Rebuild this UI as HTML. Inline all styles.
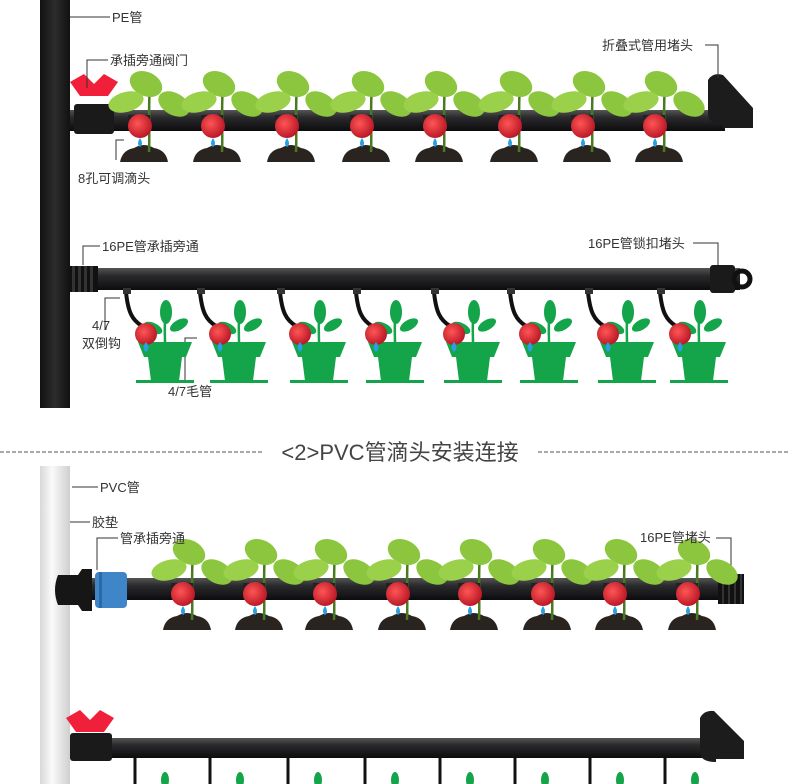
<!DOCTYPE html>
<html><head><meta charset="utf-8">
<style>
html,body{margin:0;padding:0;background:#fff;}
svg{display:block;}
text{font-family:"Liberation Sans","Noto Sans CJK SC",sans-serif;fill:#333;font-size:13px;}
</style></head><body>
<svg width="790" height="784" viewBox="0 0 790 784" xmlns="http://www.w3.org/2000/svg">
<defs>
<linearGradient id="pipe" x1="0" y1="0" x2="0" y2="1">
<stop offset="0" stop-color="#555"/><stop offset="0.35" stop-color="#2a2a2c"/><stop offset="1" stop-color="#0c0c0e"/></linearGradient>
<linearGradient id="vpipe" x1="0" y1="0" x2="1" y2="0">
<stop offset="0" stop-color="#111"/><stop offset="0.5" stop-color="#2c2c2e"/><stop offset="1" stop-color="#111"/></linearGradient>
<linearGradient id="pvc" x1="0" y1="0" x2="1" y2="0">
<stop offset="0" stop-color="#d8d8d8"/><stop offset="0.4" stop-color="#fafafa"/><stop offset="1" stop-color="#cfcfcf"/></linearGradient>
<radialGradient id="red" cx="0.4" cy="0.4" r="0.7"><stop offset="0" stop-color="#f55"/><stop offset="1" stop-color="#b01020"/></radialGradient>
<g id="plant">
<path d="M-20 40 q2 -12 14 -14 q10 -6 20 0 q12 2 14 14z" fill="#2a2420"/>
<path d="M9 30 C10 10 8 -10 10 -38" stroke="#4a7a20" stroke-width="2.5" fill="none"/>
<ellipse cx="6" cy="-38" rx="17" ry="12" fill="#8cc63f" transform="rotate(25 6 -38)"/>
<ellipse cx="-14" cy="-20" rx="18" ry="10" fill="#9ad04a" transform="rotate(-15 -14 -20)"/>
<ellipse cx="34" cy="-18" rx="17" ry="11" fill="#8cc63f" transform="rotate(30 34 -18)"/>
<path d="M-12 -7 h22 v5 h-22z" fill="#222"/>
<circle cx="0" cy="4" r="12" fill="url(#red)"/>
<path d="M0 16 q4 6 0 9 q-4 -3 0 -9z" fill="#2aa0e0"/>
</g>
<g id="pot">
<path d="M-2 0 C0 20 4 28 14 34" stroke="#111" stroke-width="4" fill="none"/>
<rect x="-5" y="-4" width="8" height="6" fill="#333"/>
<path d="M10 50 h54 l-6 15 h-4 l-3 24 h-28 l-3 -24 h-4z" fill="#14a54a"/>
<rect x="8" y="88" width="58" height="3" fill="#14a54a"/>
<path d="M37 52 C37 40 36 30 38 20" stroke="#14a54a" stroke-width="2.5" fill="none"/>
<ellipse cx="38" cy="20" rx="6" ry="12" fill="#14a54a"/>
<ellipse cx="25" cy="36" rx="10" ry="5" fill="#14a54a" transform="rotate(25 25 36)"/>
<ellipse cx="51" cy="33" rx="10" ry="5" fill="#14a54a" transform="rotate(-30 51 33)"/>
<circle cx="18" cy="42" r="11" fill="url(#red)"/>
<path d="M18 50 q5 6 0 10 q-5 -4 0 -10z" fill="#2aa0e0"/>
</g>
</defs>

<rect x="40" y="0" width="30" height="408" fill="url(#vpipe)"/>

<rect x="70" y="110" width="655" height="21" fill="url(#pipe)"/>
<rect x="74" y="104" width="40" height="30" rx="3" fill="#1a1a1a"/>
<path d="M70 82 l14 -8 l10 10 l10 -10 l14 8 l-10 14 h-28z" fill="#f0203a"/>
<path d="M708 80 q5 -8 15 -5 l30 33 v20 h-30 v-4 q-15 0 -15 -10z" fill="#1c1c1c"/>
<use href="#plant" x="140" y="122"/><use href="#plant" x="213" y="122"/>
<use href="#plant" x="287" y="122"/><use href="#plant" x="362" y="122"/>
<use href="#plant" x="435" y="122"/><use href="#plant" x="510" y="122"/>
<use href="#plant" x="583" y="122"/><use href="#plant" x="655" y="122"/>

<g stroke="#333" stroke-width="1" fill="none">
<path d="M70 17 H110"/><path d="M87 88 V60 H108"/><path d="M116 160 V140 H124"/>
<path d="M705 45 H718 V78"/><path d="M83 265 V246 H100"/><path d="M693 243 H718 V268"/>
<path d="M105 330 V298 H120"/><path d="M185 380 V338 H197"/>
<path d="M72 487 H98"/><path d="M65 580 V522 H90"/><path d="M97 570 V538 H118"/>
<path d="M716 538 H731 V578"/>
</g>
<text x="112" y="22">PE管</text>
<text x="110" y="65">承插旁通阀门</text>
<text x="78" y="183">8孔可调滴头</text>
<text x="602" y="50">折叠式管用堵头</text>

<rect x="70" y="268" width="670" height="22" fill="url(#pipe)"/>
<rect x="70" y="266" width="28" height="26" fill="#111"/>
<g fill="#333"><rect x="72" y="266" width="3" height="26"/><rect x="78" y="266" width="3" height="26"/><rect x="84" y="266" width="3" height="26"/><rect x="90" y="266" width="3" height="26"/></g>
<rect x="710" y="265" width="25" height="28" rx="3" fill="#1a1a1a"/>
<circle cx="742" cy="279" r="8" fill="none" stroke="#111" stroke-width="5"/>
<use href="#pot" x="128" y="292"/><use href="#pot" x="202" y="292"/>
<use href="#pot" x="282" y="292"/><use href="#pot" x="358" y="292"/>
<use href="#pot" x="436" y="292"/><use href="#pot" x="512" y="292"/>
<use href="#pot" x="590" y="292"/><use href="#pot" x="662" y="292"/>
<text x="102" y="251">16PE管承插旁通</text>
<text x="588" y="248">16PE管锁扣堵头</text>
<text x="92" y="330">4/7</text>
<text x="82" y="348">双倒钩</text>
<text x="168" y="396">4/7毛管</text>

<line x1="0" y1="452" x2="262" y2="452" stroke="#555" stroke-dasharray="4 2"/>
<line x1="538" y1="452" x2="790" y2="452" stroke="#555" stroke-dasharray="4 2"/>
<text x="400" y="460" text-anchor="middle" style="font-size:22px;fill:#444">&lt;2&gt;PVC管滴头安装连接</text>

<rect x="40" y="466" width="30" height="318" fill="url(#pvc)"/>
<rect x="80" y="578" width="650" height="22" fill="url(#pipe)"/>
<path d="M58 575 h20 l4 -6 h10 v42 h-10 l-4 -6 h-20 q-6 -15 0 -30z" fill="#161616"/>
<rect x="95" y="572" width="32" height="36" rx="4" fill="#3f86c8"/>
<rect x="99" y="572" width="3" height="36" fill="#2a6aa8"/>
<rect x="718" y="574" width="26" height="30" fill="#111"/>
<g fill="#333"><rect x="722" y="574" width="2" height="30"/><rect x="728" y="574" width="2" height="30"/><rect x="734" y="574" width="2" height="30"/><rect x="740" y="574" width="2" height="30"/></g>
<use href="#plant" x="183" y="590"/><use href="#plant" x="255" y="590"/>
<use href="#plant" x="325" y="590"/><use href="#plant" x="398" y="590"/>
<use href="#plant" x="470" y="590"/><use href="#plant" x="543" y="590"/>
<use href="#plant" x="615" y="590"/><use href="#plant" x="688" y="590"/>
<text x="100" y="492">PVC管</text>
<text x="92" y="527">胶垫</text>
<text x="120" y="543">管承插旁通</text>
<text x="640" y="542">16PE管堵头</text>

<rect x="70" y="738" width="640" height="20" fill="url(#pipe)"/>
<rect x="70" y="733" width="42" height="28" rx="3" fill="#1a1a1a"/>
<path d="M66 718 l14 -8 l10 10 l10 -10 l14 8 l-10 14 h-28z" fill="#f0203a"/>
<path d="M700 718 q4 -8 14 -7 l30 30 v18 h-28 v3 q-16 0 -16 -10z" fill="#1c1c1c"/>
<g stroke="#111" stroke-width="3" fill="none">
<path d="M135 758 v26"/><path d="M210 758 v26"/><path d="M288 758 v26"/><path d="M365 758 v26"/>
<path d="M440 758 v26"/><path d="M515 758 v26"/><path d="M590 758 v26"/><path d="M665 758 v26"/></g>
<g fill="#14a54a">
<ellipse cx="165" cy="780" rx="4" ry="8"/><ellipse cx="240" cy="780" rx="4" ry="8"/><ellipse cx="318" cy="780" rx="4" ry="8"/><ellipse cx="395" cy="780" rx="4" ry="8"/>
<ellipse cx="470" cy="780" rx="4" ry="8"/><ellipse cx="545" cy="780" rx="4" ry="8"/><ellipse cx="620" cy="780" rx="4" ry="8"/><ellipse cx="695" cy="780" rx="4" ry="8"/></g>
</svg>
</body></html>
